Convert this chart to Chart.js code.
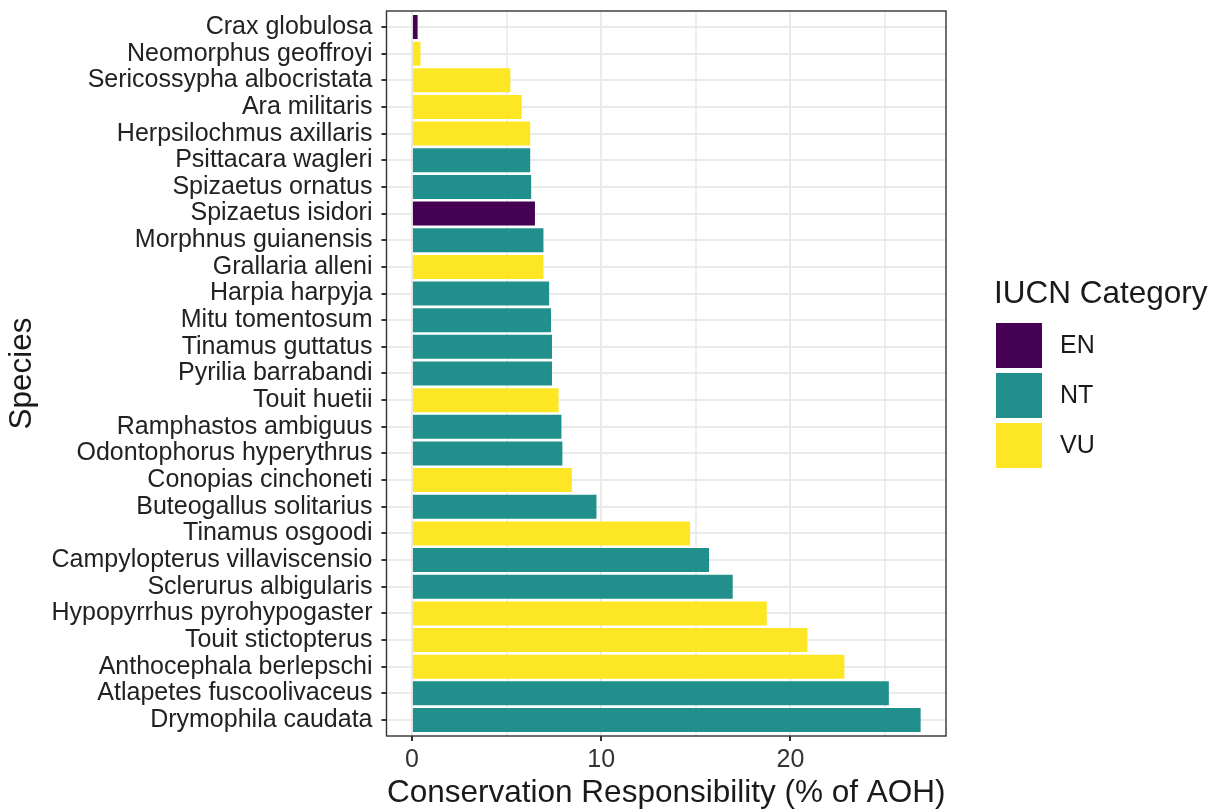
<!DOCTYPE html>
<html>
<head>
<meta charset="utf-8">
<script src="https://cdn.jsdelivr.net/npm/chart.js@4"></script>
<style>
  html, body { margin: 0; padding: 0; background: #fff; }
  #wrap { width: 1216px; height: 810px; }
</style>
</head>
<body>
<div id="wrap"><canvas id="chart" width="1216" height="810"></canvas></div>
<script>
// Species, top to bottom as in the plot
const species = [
    'Crax globulosa', 'Neomorphus geoffroyi', 'Sericossypha albocristata', 'Ara militaris',
    'Herpsilochmus axillaris', 'Psittacara wagleri', 'Spizaetus ornatus', 'Spizaetus isidori',
    'Morphnus guianensis', 'Grallaria alleni', 'Harpia harpyja', 'Mitu tomentosum',
    'Tinamus guttatus', 'Pyrilia barrabandi', 'Touit huetii', 'Ramphastos ambiguus',
    'Odontophorus hyperythrus', 'Conopias cinchoneti', 'Buteogallus solitarius', 'Tinamus osgoodi',
    'Campylopterus villaviscensio', 'Sclerurus albigularis', 'Hypopyrrhus pyrohypogaster',
    'Touit stictopterus', 'Anthocephala berlepschi', 'Atlapetes fuscoolivaceus', 'Drymophila caudata'
];

// Conservation responsibility (% of AOH)
const responsibility = [
    0.3, 0.45, 5.2, 5.8,
    6.25, 6.25, 6.3, 6.5,
    6.95, 6.95, 7.25, 7.35,
    7.4, 7.4, 7.75, 7.9,
    7.95, 8.45, 9.75, 14.7,
    15.7, 16.95, 18.75,
    20.9, 22.85, 25.2, 26.88
];

const iucn = [
    'EN', 'VU', 'VU', 'VU',
    'VU', 'NT', 'NT', 'EN',
    'NT', 'VU', 'NT', 'NT',
    'NT', 'NT', 'VU', 'NT',
    'NT', 'VU', 'NT', 'VU',
    'NT', 'NT', 'VU',
    'VU', 'VU', 'NT', 'NT'
];

const categories = ['EN', 'NT', 'VU'];
const categoryColors = ['#440154', '#21908C', '#FDE725'];
const xTicks = [0, 5, 10, 15, 20, 25];

const FONT = '"Liberation Sans", Arial, sans-serif';

const colorFor = (cat) => categoryColors[categories.indexOf(cat)];

// panel border like ggplot theme_bw
const panelBorder = {
    id: 'panelBorder',
    afterDraw(chart) {
        const { ctx, chartArea: a } = chart;
        ctx.save();
        ctx.strokeStyle = '#333333';
        ctx.lineWidth = 1.4;
        ctx.strokeRect(a.left, a.top, a.right - a.left, a.bottom - a.top);
        ctx.restore();
    }
};

// legend on the right, drawn from the category arrays
const sideLegend = {
    id: 'sideLegend',
    afterDraw(chart) {
        const ctx = chart.ctx;
        const x = 996, top = 323, boxW = 46, boxH = 45, pitch = 50;
        ctx.save();
        ctx.fillStyle = '#1a1a1a';
        ctx.textBaseline = 'middle';
        ctx.textAlign = 'left';
        ctx.font = '31.5px ' + FONT;
        ctx.fillText('IUCN Category', 994, 294);
        ctx.font = '25px ' + FONT;
        categories.forEach((cat, i) => {
            const y = top + i * pitch;
            ctx.fillStyle = categoryColors[i];
            ctx.fillRect(x, y, boxW, boxH);
            ctx.fillStyle = '#1a1a1a';
            ctx.fillText(cat, 1060, y + boxH / 2 + 1);
        });
        ctx.restore();
    }
};

// species index on a numeric axis so the ggplot 0.6 discrete expansion can be kept
const points = responsibility.map((v, i) => ({ x: v, y: i }));

new Chart(document.getElementById('chart'), {
    type: 'bar',
    data: {
        datasets: [{
            label: 'Conservation Responsibility',
            data: points,
            backgroundColor: iucn.map(colorFor),
            borderWidth: 0,
            barPercentage: 0.9,
            categoryPercentage: 1.0
        }]
    },
    options: {
        indexAxis: 'y',
        responsive: false,
        animation: false,
        layout: {
            padding: { left: 0, right: 270, top: 11, bottom: 0 }
        },
        plugins: {
            legend: { display: false },
            tooltip: { enabled: false }
        },
        scales: {
            x: {
                type: 'linear',
                min: -1.344,
                max: 28.22,
                afterBuildTicks(scale) {
                    scale.ticks = xTicks.map(v => ({ value: v }));
                },
                afterFit(scale) {
                    scale.height = 74;
                    scale.paddingLeft = 0;
                    scale.paddingRight = 0;
                },
                ticks: {
                    autoSkip: false,
                    maxRotation: 0,
                    padding: 4,
                    color: '#333333',
                    font: { family: FONT, size: 25 },
                    callback: (v) => (v % 10 === 0 ? String(v) : '')
                },
                grid: {
                    color: (c) => (c.tick && c.tick.value % 10 === 0 ? '#EAEAEA' : '#EEEEEE'),
                    lineWidth: 2,
                    tickColor: (c) => (c.tick && c.tick.value % 10 === 0 ? '#333333' : 'rgba(0,0,0,0)'),
                    tickLength: 5
                },
                border: { display: false },
                title: {
                    display: true,
                    text: 'Conservation Responsibility (% of AOH)',
                    color: '#1a1a1a',
                    font: { family: FONT, size: 31.5, lineHeight: 1 },
                    padding: { top: 0, bottom: 1 }
                }
            },
            y: {
                type: 'linear',
                reverse: true,
                offset: false,
                min: -0.6,
                max: species.length - 0.4,
                afterBuildTicks(scale) {
                    scale.ticks = species.map((s, i) => ({ value: i }));
                },
                afterFit(scale) {
                    scale.width = 386.5;
                    scale.paddingTop = 0;
                    scale.paddingBottom = 0;
                },
                ticks: {
                    autoSkip: false,
                    padding: 9,
                    color: '#222222',
                    font: { family: FONT, size: 25 },
                    callback: (v) => species[v]
                },
                grid: {
                    offset: false,
                    color: '#EAEAEA',
                    lineWidth: 2,
                    tickColor: '#333333',
                    tickLength: 5
                },
                border: { display: false },
                title: {
                    display: true,
                    text: 'Species',
                    color: '#1a1a1a',
                    font: { family: FONT, size: 31.5, lineHeight: 1 },
                    padding: { top: 7, bottom: 0 }
                }
            }
        }
    },
    plugins: [panelBorder, sideLegend]
});
</script>
</body>
</html>
